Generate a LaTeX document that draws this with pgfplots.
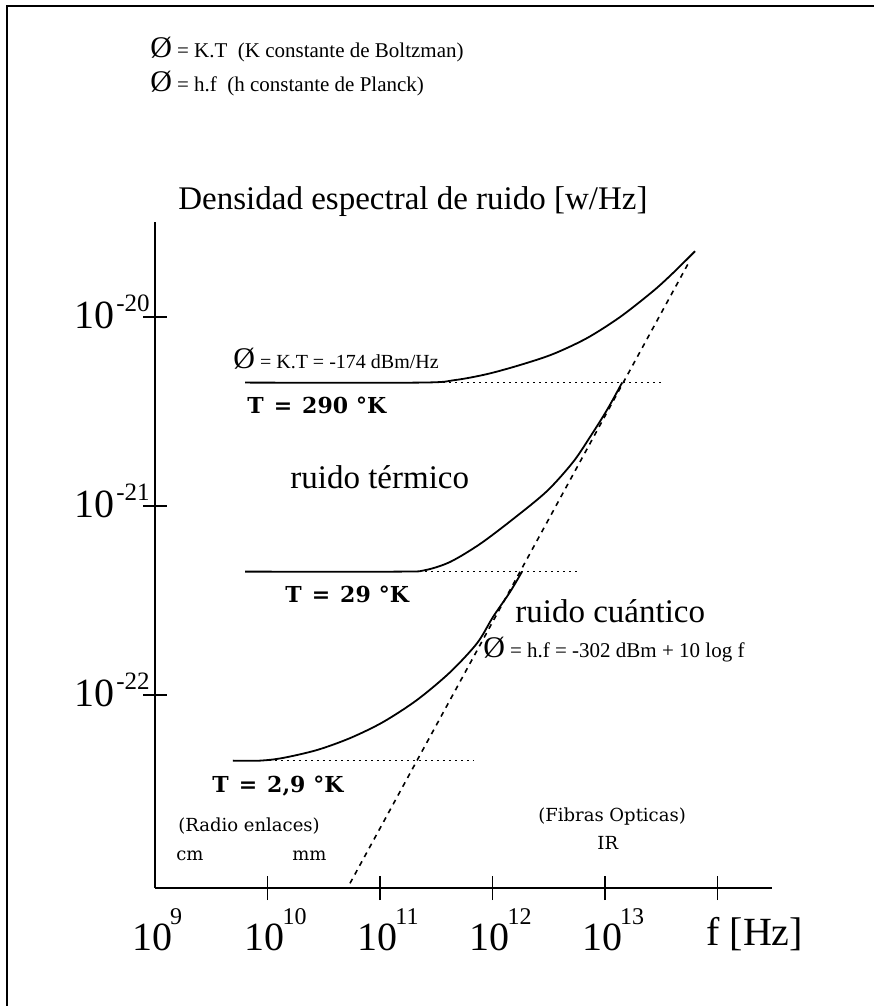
\documentclass[border=0pt]{standalone}
\usepackage{pgfplots}
\pgfplotsset{compat=1.18}
\usepackage{fontspec}
\setmainfont{Liberation Serif}
\newfontfamily\wideserif{DejaVu Serif}

% tick label helpers: big "10" with a raised exponent
\newcommand\xl[1]{\fontsize{20}{20}\selectfont 10\kern-1pt\raisebox{13pt}{\fontsize{12}{12}\selectfont #1}}
\newcommand\yl[1]{\fontsize{20}{20}\selectfont 10\kern1pt\raisebox{8.5pt}{\fontsize{12.5}{12.5}\selectfont #1}}
\newcommand\phisym{{\fontsize{15}{15}\selectfont Ø}}
\newcommand\tlab[1]{{\wideserif\bfseries\fontsize{11}{11}\selectfont #1}}
\newcommand\band[1]{{\wideserif\fontsize{9}{9}\selectfont #1}}

\begin{document}
\begin{tikzpicture}[x=0.5pt,y=-0.5pt]
\path[use as bounding box] (0,0) rectangle (874,1006);
\draw[line width=0.9pt] (7,1006) -- (7,6) -- (874,6);

\begin{axis}[
  at={(77.5pt,-444pt)}, anchor=south west,
  scale only axis, width=308.5pt, height=333pt,
  xmode=log, ymode=log,
  xmin=1e9, xmax=3.05e14, ymin=9.53e-24, ymax=3.18e-20,
  axis x line=bottom, axis y line=left,
  axis line style={-, line width=1.1pt},
  xtick={1e10,1e11,1e12,1e13,1e14},
  ytick={1e-22,1e-21,1e-20},
  xminorticks=false, yminorticks=false,
  tick align=center, major tick length=12pt,
  tick style={line width=0.7pt, black},
  xticklabels={\xl{10},\xl{11},\xl{12},\xl{13},{}},
  yticklabels={\yl{-22},\yl{-21},\yl{-20}},
  xticklabel style={anchor=base, yshift=-25pt, xshift=4pt, inner sep=0pt},
  yticklabel style={anchor=base east, yshift=-5.5pt, xshift=3.5pt, inner sep=0pt},
  clip=false,
]
% kT levels for T = 290, 29 and 2.9 K
\addplot[no marks, line width=0.8pt, dash pattern=on 1pt off 2pt] coordinates {(6.31e9,4.5e-21) (3.28e13,4.5e-21)};
\addplot[no marks, line width=0.8pt, dash pattern=on 1pt off 2pt] coordinates {(6.31e9,4.5e-22) (6.00e12,4.5e-22)};
\addplot[no marks, line width=0.8pt, dash pattern=on 1pt off 2pt] coordinates {(4.93e9,4.5e-23) (6.71e11,4.5e-23)};
% quantum limit h f
\addplot[no marks, line width=0.8pt, dash pattern=on 2.5pt off 2.5pt] coordinates {(5.41e10,1.01e-23) (5.70e13,2.00e-20)};
% total noise density, T = 290 K
\addplot[no marks, smooth, line width=0.9pt] coordinates {
  (6.31e9,4.5e-21) (2.27e11,4.5e-21) (4.64e11,4.64e-21) (8.93e11,4.99e-21)
  (1.75e12,5.57e-21) (3.45e12,6.37e-21) (6.92e12,7.74e-21) (1.36e13,1.00e-20)
  (2.67e13,1.37e-20) (4.02e13,1.71e-20) (6.31e13,2.23e-20)};
% T = 29 K
\addplot[no marks, smooth, line width=0.9pt] coordinates {
  (6.31e9,4.5e-22) (1.51e11,4.5e-22) (2.51e11,4.58e-22) (4.19e11,5.06e-22)
  (7.74e11,6.30e-22) (1.52e12,8.53e-22) (3.05e12,1.20e-21) (5.20e12,1.71e-21)
  (7.36e12,2.32e-21) (1.04e13,3.22e-21) (1.42e13,4.5e-21)};
% T = 2.9 K
\addplot[no marks, smooth, line width=0.9pt] coordinates {
  (4.93e9,4.5e-23) (8.57e9,4.5e-23) (1.37e10,4.65e-23) (2.75e10,5.12e-23)
  (5.41e10,5.92e-23) (1.06e11,7.19e-23) (2.13e11,9.42e-23) (4.19e11,1.32e-22)
  (7.28e11,1.88e-22) (1.01e12,2.59e-22) (1.43e12,3.51e-22) (1.83e12,4.5e-22)};
\end{axis}

% axis captions
\node[anchor=base, inner sep=0pt] at (157,950) {\xl{9}};
\node[anchor=base west, inner sep=0pt] at (706,945) {\fontsize{20}{20}\selectfont f [Hz]};
\node[anchor=base west, inner sep=0pt] at (178,209) {\fontsize{16.5}{16.5}\selectfont Densidad espectral de ruido [w/Hz]};

% definitions
\node[anchor=base west, inner sep=0pt] at (150,58) {\phisym\ {\fontsize{10.5}{10.5}\selectfont = K.T\enspace(K constante de Boltzman)}};
\node[anchor=base west, inner sep=0pt] at (150,92) {\phisym\ {\fontsize{10.5}{10.5}\selectfont = h.f\enspace(h constante de Planck)}};

% curve annotations
\node[anchor=base west, inner sep=0pt] at (233,368) {\phisym\ {\fontsize{10}{10}\selectfont = K.T = -174 dBm/Hz}};
\node[anchor=base west, inner sep=0pt] at (247,413) {\tlab{T\hspace{5pt}=\hspace{5pt}290\hspace{4pt}°K}};
\node[anchor=base west, inner sep=0pt] at (290,488) {\fontsize{16.5}{16.5}\selectfont ruido térmico};
\node[anchor=base west, inner sep=0pt] at (285,602) {\tlab{T\hspace{5pt}=\hspace{5pt}29\hspace{4pt}°K}};
\node[anchor=base west, inner sep=0pt] at (515,622) {\fontsize{16.5}{16.5}\selectfont ruido cuántico};
\node[anchor=base west, inner sep=0pt] at (483,657) {\phisym\ {\fontsize{10.5}{10.5}\selectfont = h.f = -302 dBm + 10 log f}};
\node[anchor=base west, inner sep=0pt] at (212,792) {\tlab{T\hspace{5pt}=\hspace{5pt}2,9\hspace{4pt}°K}};

% bands
\node[anchor=base west, inner sep=0pt] at (178,831) {\band{(Radio enlaces)}};
\node[anchor=base west, inner sep=0pt] at (176,860) {\band{cm}};
\node[anchor=base west, inner sep=0pt] at (292,860) {\band{mm}};
\node[anchor=base west, inner sep=0pt] at (538,821) {\band{(Fibras Opticas)}};
\node[anchor=base west, inner sep=0pt] at (597,849) {\band{IR}};
\end{tikzpicture}
\end{document}
